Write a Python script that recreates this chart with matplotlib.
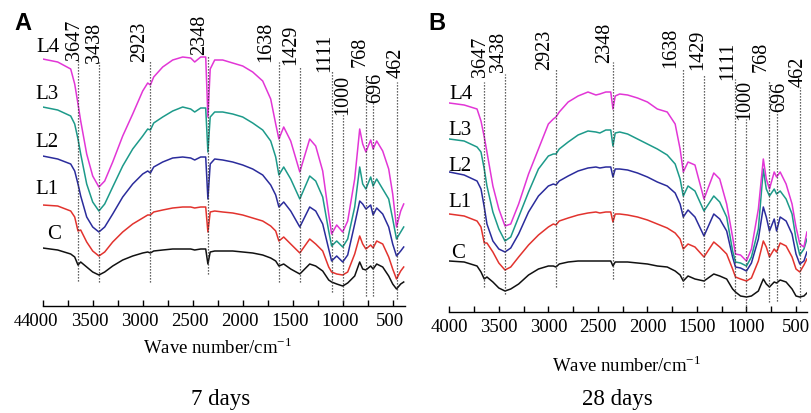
import numpy as np
import matplotlib
matplotlib.use('Agg')
import matplotlib.pyplot as plt
from matplotlib.ticker import MultipleLocator
from matplotlib.transforms import ScaledTranslation

plt.rcParams['font.family'] = ['Liberation Serif', 'DejaVu Serif']

# wavenumber grid shared by all spectra (cm-1)
wn = [4000, 3850, 3720, 3680, 3647, 3620, 3560, 3500, 3438, 3380,
      3300, 3200, 3100, 3000, 2950, 2923, 2890, 2800, 2700, 2600,
      2520, 2480, 2420, 2370, 2348, 2325, 2280, 2200, 2100, 2000,
      1900, 1800, 1720, 1670, 1638, 1590, 1520, 1429, 1330, 1270,
      1200, 1140, 1111, 1060, 1000, 950, 880, 830, 800, 768,
      720, 696, 660, 600, 540, 500, 462, 420, 390]

# 7 days, stacked transmittance (a.u.)
a_L4 = [247, 244, 237, 222, 202, 185, 152, 130, 119, 125,
        144, 170, 192, 215, 223, 221, 229, 239, 246, 249,
        248, 244, 249, 249, 189, 237, 246, 246, 243, 240,
        234, 225, 207, 182, 167, 179, 165, 134, 167, 160,
        135, 92, 72, 81, 74, 85, 127, 177, 162, 154,
        166, 157, 165, 155, 137, 112, 79, 95, 102]
a_L3 = [199, 196, 190, 182, 167, 152, 122, 104, 95, 102,
        119, 140, 157, 170, 177, 176, 183, 189, 195, 199,
        197, 194, 198, 198, 154, 189, 194, 194, 192, 189,
        183, 176, 165, 149, 131, 139, 127, 107, 130, 125,
        109, 75, 60, 65, 59, 67, 99, 139, 122, 117,
        129, 120, 127, 117, 107, 87, 67, 74, 79]
a_L2 = [150, 147, 142, 135, 122, 110, 89, 79, 74, 79,
        92, 109, 122, 132, 135, 133, 139, 144, 148, 149,
        148, 146, 149, 149, 107, 142, 147, 146, 144, 141,
        137, 131, 121, 111, 99, 104, 95, 79, 99, 95,
        82, 57, 45, 50, 44, 51, 82, 105, 102, 97,
        101, 91, 98, 92, 79, 62, 50, 55, 59]
a_L1 = [101, 100, 95, 89, 75, 76, 64, 55, 50, 54,
        64, 74, 82, 88, 91, 91, 94, 96, 98, 99,
        99, 98, 99, 99, 74, 94, 95, 94, 93, 91,
        88, 85, 80, 75, 65, 69, 62, 53, 67, 62,
        55, 39, 34, 32, 31, 34, 52, 70, 62, 57,
        61, 58, 65, 62, 49, 37, 27, 35, 39]
a_C = [58, 56, 52, 49, 41, 44, 39, 34, 31, 34,
       40, 46, 50, 53, 54, 53, 55, 56, 57, 57,
       57, 56, 57, 57, 42, 54, 55, 55, 55, 54,
       53, 51, 48, 45, 40, 42, 37, 32, 42, 40,
       35, 26, 24, 22, 20, 23, 30, 44, 37, 36,
       40, 37, 42, 39, 30, 22, 17, 22, 24]

# 28 days
b_L4 = [209, 207, 203, 191, 175, 160, 126, 103, 86, 88,
        108, 138, 163, 188, 193, 195, 200, 210, 216, 220,
        217, 218, 220, 220, 203, 216, 218, 217, 214, 210,
        203, 200, 188, 163, 140, 150, 147, 113, 139, 133,
        108, 75, 58, 57, 51, 63, 103, 153, 133, 123,
        140, 135, 140, 128, 108, 85, 68, 65, 80]
b_L3 = [173, 171, 165, 160, 143, 126, 100, 83, 71, 75,
        95, 120, 143, 156, 158, 158, 163, 170, 177, 181,
        180, 179, 182, 182, 166, 179, 180, 178, 173, 168,
        163, 157, 148, 133, 116, 126, 121, 101, 116, 110,
        95, 61, 50, 49, 46, 55, 83, 143, 123, 116,
        123, 118, 121, 113, 98, 73, 57, 63, 73]
b_L2 = [140, 137, 131, 123, 105, 88, 71, 63, 60, 64,
        78, 100, 116, 126, 128, 127, 131, 136, 141, 144,
        145, 144, 145, 145, 135, 143, 143, 142, 139, 135,
        130, 126, 119, 108, 95, 102, 95, 76, 98, 93,
        81, 55, 45, 44, 41, 49, 73, 105, 95, 81,
        93, 81, 95, 91, 78, 58, 48, 51, 60]
b_L1 = [98, 96, 91, 85, 69, 69, 60, 49, 42, 45,
        55, 67, 77, 85, 88, 87, 91, 94, 97, 99,
        100, 99, 100, 100, 90, 98, 98, 97, 95, 92,
        88, 84, 79, 73, 63, 68, 65, 55, 70, 65,
        58, 43, 35, 33, 31, 34, 51, 71, 65, 55,
        63, 60, 69, 66, 55, 43, 40, 47, 53]
b_C = [51, 50, 46, 40, 33, 35, 30, 24, 21, 23,
       28, 37, 43, 46, 46, 45, 48, 50, 51, 51,
       51, 51, 51, 51, 46, 50, 50, 50, 49, 48,
       46, 45, 41, 37, 31, 36, 33, 31, 38, 36,
       33, 23, 20, 16, 15, 16, 21, 33, 28, 25,
       30, 29, 32, 30, 23, 16, 15, 16, 19]

names = ['C', 'L1', 'L2', 'L3', 'L4']
colors = ['#111111', '#e2332e', '#2b2c9c', '#1d9a8a', '#e236d6']
peaks = [3647, 3438, 2923, 2348, 1638, 1429, 1111, 1000, 768, 696, 462]
xticks = list(range(4000, 499, -500))

W, H = 811, 414
fig = plt.figure(figsize=(W/100, H/100), dpi=100)

def panel(left, right, base, xmax, series, lab_x, lab_bot, line_top, line_bot, name_pos, shift=0):
    ax = fig.add_axes([left/W, 1-base/H, (right-left)/W, base/H])
    ax.set_xlim(4000, xmax); ax.set_ylim(0, base)
    for s, c in zip(series, colors):
        ax.plot(wn, s, color=c, lw=1.1)
    for p, lx, lb, t, b in zip(peaks, lab_x, lab_bot, line_top, line_bot):
        ax.plot([p, p], [base-b, base-t], color='#333333', lw=0.9, ls=(0, (1, 1.4)))
        ax.text(lx, base-lb, str(p), rotation=90, ha='center', va='bottom', fontsize=14.5)
    for n, (x, y) in zip(names, name_pos):
        ax.text(x, y, n, ha='center', va='center', fontsize=15)
    for s in ('left', 'right', 'top'):
        ax.spines[s].set_visible(False)
    ax.spines['bottom'].set_linewidth(1.0)
    ax.set_yticks([])
    ax.xaxis.set_minor_locator(MultipleLocator(250))
    ax.tick_params(axis='x', which='both', direction='in', length=4, width=1.0, pad=4, labelsize=13.5)
    ax.set_xticks(xticks)
    ax.set_xticklabels([str(v) for v in xticks])
    if shift:
        off = ScaledTranslation(shift/100, 0, fig.dpi_scale_trans)
        for t in ax.get_xticklabels():
            t.set_transform(t.get_transform() + off)
    ax.patch.set_alpha(0)
    return ax

axA = panel(42.7, 405, 307, 377, [a_C, a_L1, a_L2, a_L3, a_L4],
            [3677, 3482, 3032, 2432, 1772, 1522, 1182, 1002, 827, 667, 467],
            [60, 63, 62, 55, 62, 65, 72, 115, 67, 103, 78],
            [60, 63, 62, 57, 63, 67, 72, 115, 75, 103, 83],
            [282, 283, 283, 275, 283, 283, 293, 303, 297, 297, 300],
            [(3887, 72), (3957, 117), (3957, 164), (3957, 212), (3947, 260)], shift=-3)
axB = panel(449.3, 807, 313, 389, [b_C, b_L1, b_L2, b_L3, b_L4],
            [3680, 3508, 3039, 2433, 1767, 1494, 1191, 1015, 848, 661, 475],
            [77, 72, 70, 63, 68, 70, 80, 120, 72, 112, 87],
            [83, 75, 70, 63, 70, 75, 80, 120, 82, 112, 88],
            [288, 295, 288, 280, 288, 288, 300, 310, 303, 302, 302],
            [(3912, 60), (3892, 110), (3892, 146), (3892, 182), (3883, 218)])

# stray digit left of the first tick label in panel A
fig.text(18/W, 1-322/H, '4', ha='center', va='center', fontsize=11.5)

fig.text(23/W, 1-24/H, 'A', family='Liberation Sans', weight='bold', fontsize=17, ha='center', va='center')
fig.text(437/W, 1-24/H, 'B', family='Liberation Sans', weight='bold', fontsize=17, ha='center', va='center')

fig.text(218/W, 1-348/H, r'Wave number/cm$^{\mathregular{-1}}$', ha='center', va='center', fontsize=13.5)
fig.text(627/W, 1-366/H, r'Wave number/cm$^{\mathregular{-1}}$', ha='center', va='center', fontsize=13.5)
fig.text(221/W, 1-400/H, '7 days', ha='center', va='center', fontsize=16.5)
fig.text(617/W, 1-400/H, '28 days', ha='center', va='center', fontsize=16.5)

fig.savefig('out.png', dpi=100)
